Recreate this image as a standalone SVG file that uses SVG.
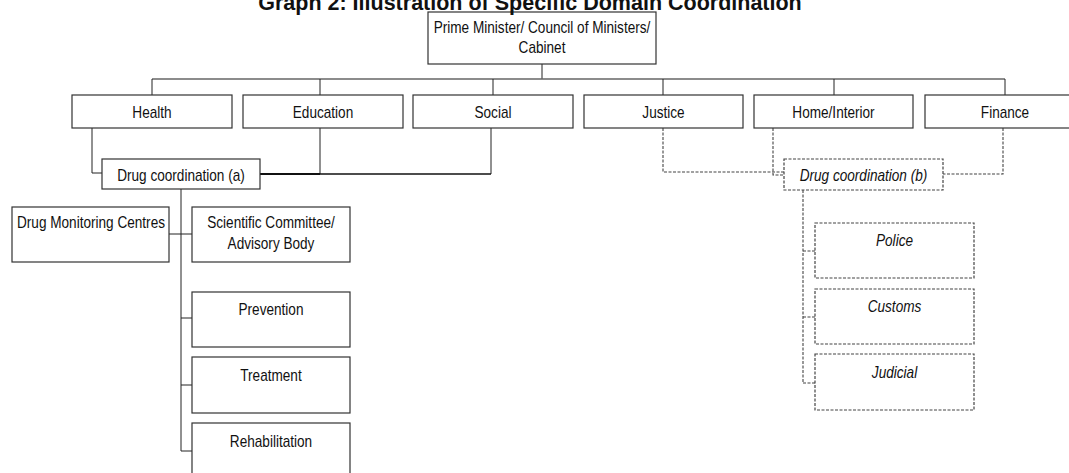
<svg xmlns="http://www.w3.org/2000/svg" width="1069" height="473" viewBox="0 0 1069 473">
  <style>
    .box{fill:#fff;stroke:#333;stroke-width:1.2}
    .dbox{fill:#fff;stroke:#444;stroke-width:1.2;stroke-dasharray:3 1.5}
    .ln{fill:none;stroke:#222;stroke-width:1}
    .thick{fill:none;stroke:#111;stroke-width:2.2}
    .mid{fill:none;stroke:#111;stroke-width:1.6}
    .dl{fill:none;stroke:#444;stroke-width:1.1;stroke-dasharray:3 1.5}
    .bus{fill:none;stroke:#666;stroke-width:1.6}
    .t{font-family:"Liberation Sans",Arial,sans-serif;font-size:16px;fill:#111;text-anchor:middle}
    .i{font-style:italic}
    .title{font-family:"Liberation Sans",Arial,sans-serif;font-size:21.5px;font-weight:bold;fill:#111;text-anchor:middle}
  </style>
  <rect width="1069" height="473" fill="#fff"/>

  <!-- connectors -->
  <g id="connectors">
    <path class="ln" d="M542 64V79"/>
    <path class="bus" d="M152 79H1005"/>
    <path class="ln" d="M152 79V95M320 79V95M493 79V95M663 79V95M834 79V95M1005 79V95"/>
    <!-- social-domain ministries to coordination (a) -->
    <path class="ln" d="M92 128V173H102"/>
    <path class="ln" d="M320 128V174"/>
    <path class="ln" d="M491 128V174"/>
    <path class="mid" d="M320 174H491"/>
    <path class="thick" d="M260 174H320"/>
    <!-- coordination (a) branches -->
    <path class="ln" d="M181 189V451"/>
    <path class="ln" d="M169 234H192M181 318H192M181 385H192M181 451H192"/>
    <!-- law-enforcement ministries to coordination (b) -->
    <path class="dl" d="M663 128V172H784"/>
    <path class="dl" d="M773 128V175H784"/>
    <path class="dl" d="M1003 128V174H943"/>
    <path class="dl" d="M803 190V383"/>
    <path class="dl" d="M803 251H815M803 317H815M803 383H815"/>
  </g>

  <g id="cabinet">
    <rect class="box" x="428" y="12" width="228" height="52"/>
    <text class="t" transform="translate(542 33) scale(0.85 1)">Prime Minister/ Council of Ministers/</text>
    <text class="t" transform="translate(542 53) scale(0.85 1)">Cabinet</text>
  </g>

  <g id="health">
    <rect class="box" x="72" y="95" width="160" height="33"/>
    <text class="t" transform="translate(152 118) scale(0.85 1)">Health</text>
  </g>
  <g id="education">
    <rect class="box" x="243" y="95" width="160" height="33"/>
    <text class="t" transform="translate(323 118) scale(0.85 1)">Education</text>
  </g>
  <g id="social">
    <rect class="box" x="413" y="95" width="160" height="33"/>
    <text class="t" transform="translate(493 118) scale(0.85 1)">Social</text>
  </g>
  <g id="justice">
    <rect class="box" x="584" y="95" width="159" height="33"/>
    <text class="t" transform="translate(663.5 118) scale(0.85 1)">Justice</text>
  </g>
  <g id="home-interior">
    <rect class="box" x="754" y="95" width="159" height="33"/>
    <text class="t" transform="translate(833.5 118) scale(0.85 1)">Home/Interior</text>
  </g>
  <g id="finance">
    <rect class="box" x="925" y="95" width="160" height="33"/>
    <text class="t" transform="translate(1005 118) scale(0.85 1)">Finance</text>
  </g>

  <g id="coordination-a">
    <rect class="box" x="102" y="159" width="158" height="30"/>
    <text class="t" transform="translate(181 181) scale(0.85 1)">Drug coordination (a)</text>
  </g>
  <g id="coordination-b">
    <rect class="dbox" x="784" y="159" width="159" height="31"/>
    <text class="t i" transform="translate(863.5 181) scale(0.85 1)">Drug coordination (b)</text>
  </g>

  <g id="monitoring-centres">
    <rect class="box" x="12" y="207" width="157" height="55"/>
    <text class="t" transform="translate(91 228) scale(0.85 1)">Drug Monitoring Centres</text>
  </g>
  <g id="scientific-committee">
    <rect class="box" x="192" y="207" width="158" height="55"/>
    <text class="t" transform="translate(271 228) scale(0.85 1)">Scientific Committee/</text>
    <text class="t" transform="translate(271 249) scale(0.85 1)">Advisory Body</text>
  </g>
  <g id="prevention">
    <rect class="box" x="192" y="292" width="158" height="55"/>
    <text class="t" transform="translate(271 315) scale(0.85 1)">Prevention</text>
  </g>
  <g id="treatment">
    <rect class="box" x="192" y="357" width="158" height="56"/>
    <text class="t" transform="translate(271 381) scale(0.85 1)">Treatment</text>
  </g>
  <g id="rehabilitation">
    <rect class="box" x="192" y="423" width="158" height="60"/>
    <text class="t" transform="translate(271 447) scale(0.85 1)">Rehabilitation</text>
  </g>

  <g id="police">
    <rect class="dbox" x="815" y="223" width="159" height="55"/>
    <text class="t i" transform="translate(894.5 246) scale(0.85 1)">Police</text>
  </g>
  <g id="customs">
    <rect class="dbox" x="815" y="289" width="159" height="55"/>
    <text class="t i" transform="translate(894.5 312) scale(0.85 1)">Customs</text>
  </g>
  <g id="judicial">
    <rect class="dbox" x="815" y="354" width="159" height="56"/>
    <text class="t i" transform="translate(894.5 378) scale(0.85 1)">Judicial</text>
  </g>

  <text class="title" x="530" y="10">Graph 2: Illustration of Specific Domain Coordination</text>
</svg>
